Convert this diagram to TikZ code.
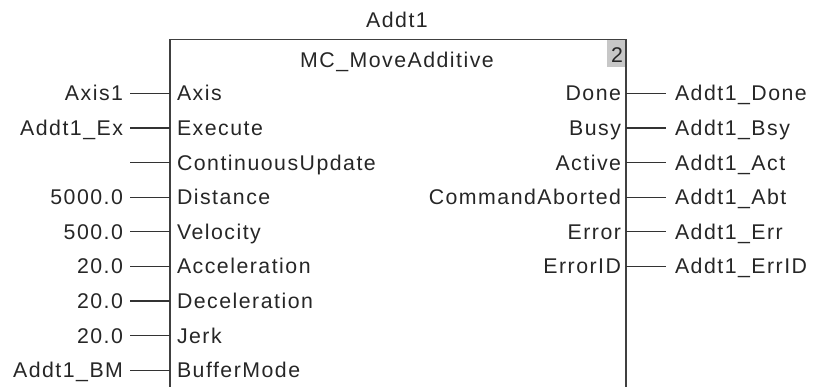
\documentclass[tikz,border=0pt]{standalone}
\usepackage{fontspec}
\setmainfont{Liberation Sans}[LetterSpace=7]
\begin{document}
\begin{tikzpicture}[x=1pt,y=-1pt,
  every node/.style={inner sep=0pt,outer sep=0pt,font=\fontsize{21.3}{24}\selectfont,text=black!85},
  wire/.style={draw=black!80,line width=1.2pt},
  boxline/.style={draw=black!75,line width=1.8pt},
  inl/.style={anchor=base west},
  inr/.style={anchor=base east},
]
\useasboundingbox (0,0) rectangle (817,387);
% block
\fill[black!22] (607,40) rectangle (625,67);
\node[anchor=base east] (num) at (623,63) {2};
\draw[boxline] (170,387.5) -- (170,39.5) -- (626,39.5) -- (626,387.5);
\node[anchor=base] (inst) at (397,28) {Addt1};
\node[anchor=base] (fb) at (397,68) {MC\_MoveAdditive};
% inputs
\foreach \i/\pin/\val [count=\k from 0] in {
  a/Axis/Axis1,
  b/Execute/Addt1\_Ex,
  c/ContinuousUpdate/,
  d/Distance/5000.0,
  e/Velocity/500.0,
  f/Acceleration/20.0,
  g/Deceleration/20.0,
  h/Jerk/20.0,
  j/BufferMode/Addt1\_BM}{
  \pgfmathsetmacro{\yy}{93.5+34.6*\k}
  \coordinate (pin\i) at (170,\yy);
  \coordinate (src\i) at (130,\yy);
  \node[inl] (pl\i) at (177,\yy+7.5) {\pin};
  \node[inr] (v\i) at (123,\yy+7.5) {\val};
  \draw[wire] (src\i) -- (pin\i);
}
% outputs
\foreach \i/\pin/\val [count=\k from 0] in {
  a/Done/Addt1\_Done,
  b/Busy/Addt1\_Bsy,
  c/Active/Addt1\_Act,
  d/CommandAborted/Addt1\_Abt,
  e/Error/Addt1\_Err,
  f/ErrorID/Addt1\_ErrID}{
  \pgfmathsetmacro{\yy}{93.5+34.6*\k}
  \coordinate (pout\i) at (626,\yy);
  \coordinate (dst\i) at (666,\yy);
  \node[inr] (pr\i) at (621,\yy+7.5) {\pin};
  \node[inl] (o\i) at (675,\yy+7.5) {\val};
  \draw[wire] (pout\i) -- (dst\i);
}
\end{tikzpicture}
\end{document}
